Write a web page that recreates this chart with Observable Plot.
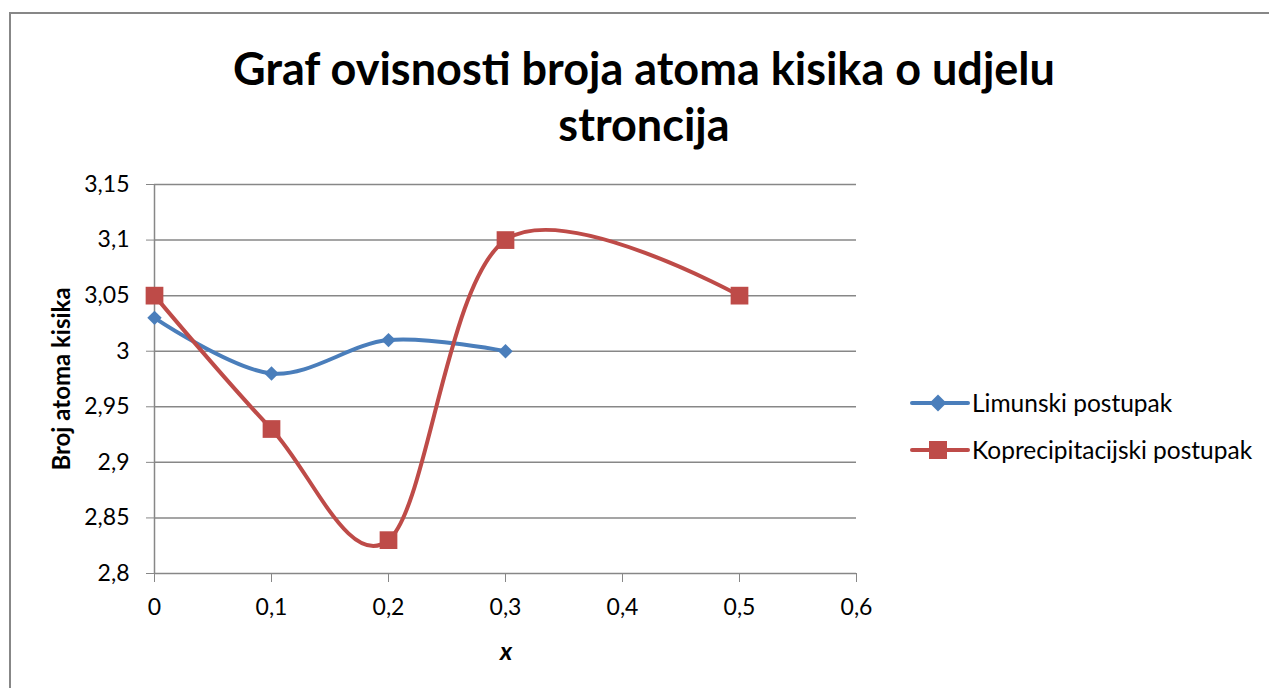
<!DOCTYPE html>
<html>
<head>
<meta charset="utf-8">
<script src="https://cdn.jsdelivr.net/npm/d3@7"></script>
<script src="https://cdn.jsdelivr.net/npm/@observablehq/plot@0.6"></script>
<style>
  html, body { margin: 0; padding: 0; background: #fff; overflow: hidden; }
  #wrap { position: relative; width: 1269px; height: 688px; font-family: Lato, "Open Sans", sans-serif; }
  #border { position: absolute; left: 9px; top: 12px; width: 1300px; height: 700px; border: 2px solid #878787; box-sizing: border-box; }
  #title { position: absolute; left: 144px; width: 1000px; top: 40px; text-align: center; font-weight: bold; font-size: 45px; line-height: 56px; color: #000; }
  #chart { position: absolute; left: 0; top: 0; }
  #ylab { position: absolute; left: 60px; top: 379px; transform: translate(-50%, -50%) rotate(-90deg); font-weight: bold; font-size: 24px; white-space: nowrap; }
  #xlab { position: absolute; left: 506px; top: 650px; transform: translate(-50%, -50%); font-weight: bold; font-style: italic; font-size: 25px; }
  #legend { position: absolute; left: 910px; top: 379px; }
  .li { display: flex; align-items: center; height: 47px; font-size: 24.5px; white-space: nowrap; }
  .li svg { margin-right: 2px; }
</style>
</head>
<body>
<div id="wrap">
  <div id="border"></div>
  <div id="title">Graf ovisnosti broja atoma kisika o udjelu<br>stroncija</div>
  <div id="chart"></div>
  <div id="ylab">Broj atoma kisika</div>
  <div id="xlab">x</div>
  <div id="legend"></div>
</div>
<script>
const seriesNames = ["Limunski postupak", "Koprecipitacijski postupak"];
const seriesColors = ["#4A7EBB", "#BE4B48"];
const limunX = [0, 0.1, 0.2, 0.3];
const limunY = [3.03, 2.98, 3.01, 3.00];
const koprX = [0, 0.1, 0.2, 0.3, 0.5];
const koprY = [3.05, 2.93, 2.83, 3.10, 3.05];
const xTicks = [0, 0.1, 0.2, 0.3, 0.4, 0.5, 0.6];
const yTicks = [2.8, 2.85, 2.9, 2.95, 3.0, 3.05, 3.1, 3.15];

const fmt = d => String(+d.toFixed(2)).replace(".", ",");
const limun = limunX.map((x, i) => ({x, y: limunY[i]}));
const kopr = koprX.map((x, i) => ({x, y: koprY[i]}));

const chart = Plot.plot({
  width: 900,
  height: 688,
  marginLeft: 154,
  marginRight: 44,
  marginTop: 184,
  marginBottom: 115,
  style: { fontFamily: "Lato, 'Open Sans', sans-serif", fontSize: "23px", color: "#000", background: "transparent" },
  x: { domain: [0, 0.6], label: null },
  y: { domain: [2.8, 3.15], label: null },
  marks: [
    Plot.gridY(yTicks, { stroke: "#878787", strokeOpacity: 1, strokeWidth: 1.5 }),
    Plot.ruleX([0], { stroke: "#878787", strokeWidth: 1.5 }),
    Plot.axisY(yTicks, { tickSize: 8, tickPadding: 17, tickFormat: fmt, stroke: "#878787", fill: "#000", label: null }),
    Plot.axisX(xTicks, { tickSize: 9, tickPadding: 16, tickFormat: fmt, stroke: "#878787", fill: "#000", label: null }),
    Plot.line(limun, { x: "x", y: "y", stroke: seriesColors[0], strokeWidth: 4, curve: "cardinal" }),
    Plot.line(kopr, { x: "x", y: "y", stroke: seriesColors[1], strokeWidth: 4, curve: "cardinal" }),
    Plot.dot(limun, { x: "x", y: "y", symbol: "diamond2", r: 6.5, fill: seriesColors[0], stroke: null }),
    Plot.dot(kopr, { x: "x", y: "y", symbol: "square", r: 10, fill: seriesColors[1], stroke: null })
  ]
});
document.getElementById("chart").appendChild(chart);

const legend = document.getElementById("legend");
seriesNames.forEach((name, i) => {
  const row = document.createElement("div");
  row.className = "li";
  const marker = i === 0
    ? `<rect x="22" y="4" width="12" height="12" transform="rotate(45 28 10)" fill="${seriesColors[0]}"/>`
    : `<rect x="19" y="1" width="18" height="18" fill="${seriesColors[1]}"/>`;
  row.innerHTML = `<svg width="60" height="20"><line x1="2" x2="58" y1="10" y2="10" stroke="${seriesColors[i]}" stroke-width="4" stroke-linecap="round"/>${marker}</svg><span>${name}</span>`;
  legend.appendChild(row);
});
</script>
</body>
</html>
